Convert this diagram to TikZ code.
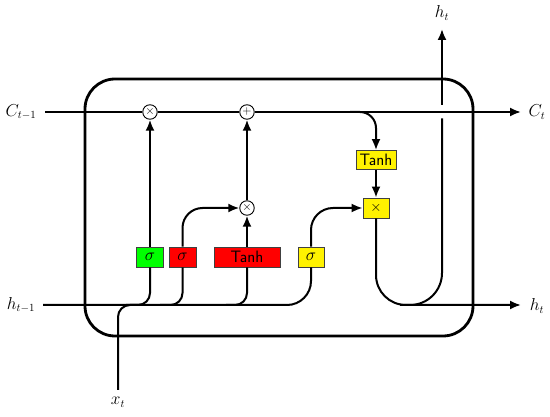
\documentclass[tikz,border=0pt]{standalone}
\usetikzlibrary{arrows.meta}
\begin{document}
\begin{tikzpicture}[x=1pt,y=-1pt,
  conn/.style={line width=2pt, rounded corners=#1},
  conn/.default=12pt,
  arr/.style={-{Latex[length=11pt,width=9pt]}},
  gate/.style={draw=black!75, line width=0.8pt, minimum height=20pt, minimum width=27pt, inner sep=0pt, font=\fontsize{16.5}{19}\selectfont\sffamily},
  op/.style={circle, draw, line width=0.9pt, minimum size=14.5pt, inner sep=0pt, fill=white, font=\fontsize{12}{12}\selectfont},
  lbl/.style={font=\fontsize{16}{19}\selectfont, inner sep=1pt},
  cellbox/.style={draw, line width=2.8pt, rounded corners=30pt, minimum width=388pt, minimum height=257pt}]
\useasboundingbox[fill=white] (0,0) rectangle (550,417);

% cell
\node[cellbox] (cell) at (279,207.5) {};

% gates
\node[gate, fill=green] (g1) at (150,257) {$\sigma$};
\node[gate, fill=red] (g2) at (182.5,257) {$\sigma$};
\node[gate, fill=red, minimum width=66pt] (g3) at (247,257) {Tanh};
\node[gate, fill=yellow, minimum width=26pt] (g4) at (311,257) {$\sigma$};
\node[gate, fill=yellow, minimum width=40pt, minimum height=19pt] (tanh2) at (376,160) {Tanh};
\node[gate, fill=yellow, minimum width=26pt, font=\fontsize{14}{14}\selectfont] (mux3) at (376,208) {$\times$};

% operators
\node[op] (mux1) at (150,112) {$\times$};
\node[op] (add1) at (247,112) {$+$};
\node[op] (mux2) at (247,208) {$\times$};

% labels
\node[lbl] (lc) at (21,112) {$C_{t-1}$};
\node[lbl] (lct) at (537,112) {$C_t$};
\node[lbl] (lh) at (21,305) {$h_{t-1}$};
\node[lbl] (lht) at (537,306) {$h_t$};
\node[lbl] (lx) at (118,402) {$x_t$};
\node[lbl] (lhtop) at (442,13) {$h_t$};

% coordinates
\coordinate (cstart) at (45,112);
\coordinate (cend) at (521,112);
\coordinate (cbr) at (350,112);
\coordinate (hstart) at (43,305);
\coordinate (hend) at (521,305);
\coordinate (b1) at (126,305);
\coordinate (b2) at (160,305);
\coordinate (b3) at (226,305);
\coordinate (xstart) at (118,390);
\coordinate (xj) at (142,305);
\coordinate (hb) at (400,305);
\coordinate (gapl) at (442,118.5);
\coordinate (gapu) at (442,105);
\coordinate (htop) at (442,29);

% cell state line
\draw[conn, arr] (cstart) -- (mux1) -- (add1) -- (cend);
\draw[conn=16pt, arr] (cbr) -| (tanh2.north);

% hidden input line and branches
\draw[conn=24pt] (hstart) -| (g4.south);
\draw[conn] (b1) -| (g1.south);
\draw[conn] (b2) -| (g2.south);
\draw[conn] (b3) -| (g3.south);
\draw[conn] (xstart) |- (xj);

% internal
\draw[conn, arr] (g1) -- (mux1);
\draw[conn=20pt, arr] (g2.north) |- (mux2.west);
\draw[conn, arr] (g3) -- (mux2);
\draw[conn, arr] (mux2) -- (add1);
\draw[conn, arr] (tanh2) -- (mux3);
\draw[conn=22pt, arr] (g4.north) |- (mux3.west);

% outputs
\draw[conn=30pt, arr] (mux3.south) |- (hend);
\draw[conn=32pt] (hb) -| (gapl);
\draw[conn, arr] (gapu) -- (htop);
\end{tikzpicture}
\end{document}
